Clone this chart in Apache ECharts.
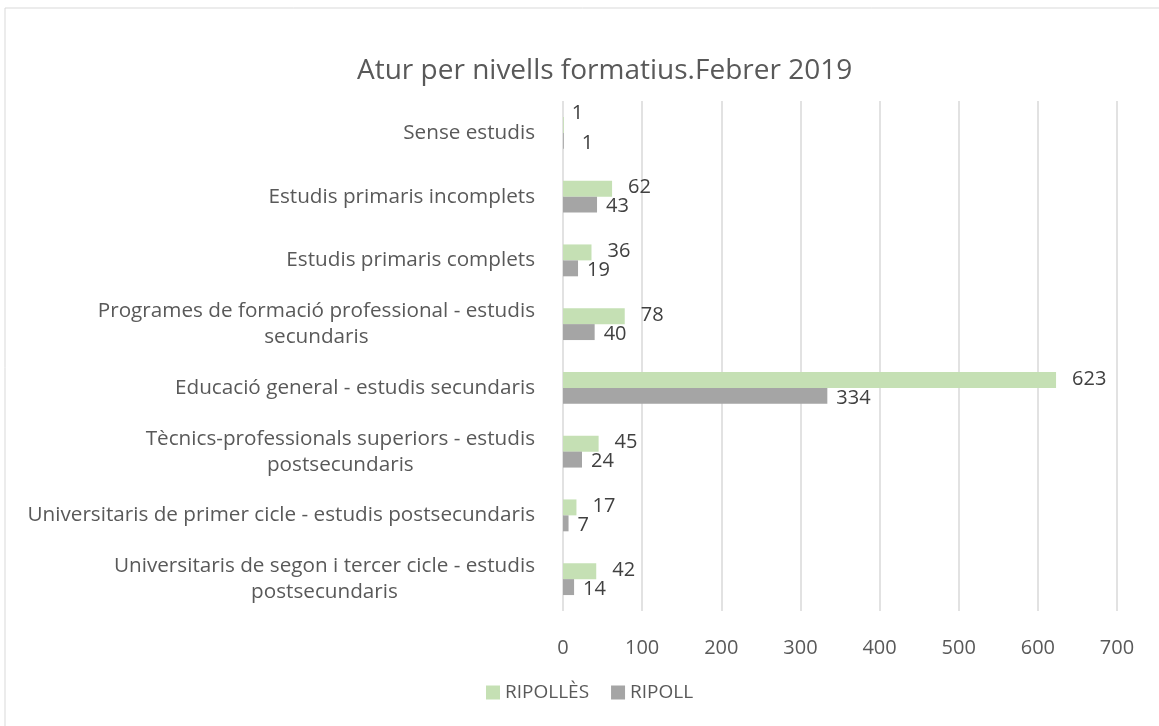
<!DOCTYPE html>
<html lang="ca">
<head>
    <meta charset="UTF-8">
    <title>Atur per nivells formatius</title>
    <script src="https://cdn.jsdelivr.net/npm/echarts@6/dist/echarts.min.js"></script>
    <style>
        html, body { margin: 0; padding: 0; background: #fff; }
        #main { width: 1159px; height: 726px; }
    </style>
</head>
<body>
    <div id="main"></div>
    <script>
    // dades
    var categories = [
        'Sense estudis',
        'Estudis primaris incomplets',
        'Estudis primaris complets',
        'Programes de formació professional - estudis\nsecundaris',
        'Educació general - estudis secundaris',
        'Tècnics-professionals superiors - estudis\npostsecundaris',
        'Universitaris de primer cicle - estudis postsecundaris',
        'Universitaris de segon i tercer cicle - estudis\npostsecundaris'
    ];
    var ripolles = [1, 62, 36, 78, 623, 45, 17, 42];
    var ripoll = [1, 43, 19, 40, 334, 24, 7, 14];
    var xTicks = [0, 100, 200, 300, 400, 500, 600, 700];

    var font = '"Open Sans", sans-serif';
    var myChart = echarts.init(document.getElementById('main'));

    // etiquetes de valors molt petits: Excel les separa una mica
    function withLabels(values, smallOffset) {
        return values.map(function (v) {
            if (v < 3) return { value: v, label: { offset: smallOffset } };
            return v;
        });
    }

    myChart.setOption({
        animation: false,
        textStyle: { fontFamily: font },
        graphic: [{
            type: 'rect',
            shape: { x: 5, y: 8, width: 1170, height: 740 },
            style: { fill: 'none', stroke: '#d9d9d9', lineWidth: 1 }
        }],
        title: {
            text: 'Atur per nivells formatius.Febrer 2019',
            left: 352,
            top: 52,
            textStyle: { fontFamily: font, fontSize: 28, fontWeight: 'normal', color: '#595959' }
        },
        legend: {
            bottom: 19,
            left: 481,
            itemWidth: 14,
            itemHeight: 14,
            itemGap: 22,
            icon: 'rect',
            textStyle: { fontFamily: font, fontSize: 19, color: '#595959' }
        },
        grid: { left: 563, right: 42, top: 101, bottom: 115, containLabel: false },
        xAxis: {
            type: 'value',
            min: xTicks[0],
            max: xTicks[xTicks.length - 1],
            interval: 100,
            axisLine: { show: false },
            axisTick: { show: false },
            axisLabel: { fontSize: 20, color: '#595959', margin: 27 },
            splitLine: { lineStyle: { color: '#d9d9d9', width: 1.5 } }
        },
        yAxis: {
            type: 'category',
            data: categories,
            inverse: true,
            axisLine: { show: false },
            axisTick: { show: false },
            axisLabel: {
                margin: 28,
                color: '#595959',
                fontSize: 20.7,
                lineHeight: 26,
                formatter: function (v) {
                    return v.split('\n').map(function (s) { return '{c|' + s + '}'; }).join('\n');
                },
                rich: { c: { align: 'center', fontSize: 20.7, color: '#595959', lineHeight: 26 } }
            }
        },
        series: [{
            name: 'RIPOLLÈS',
            type: 'bar',
            data: withLabels(ripolles, [-8, -12]),
            barGap: '0%',
            barCategoryGap: '50%',
            itemStyle: { color: '#c5e0b4' },
            label: {
                show: true,
                position: 'right',
                distance: 16,
                offset: [0, -1],
                fontSize: 20,
                color: '#404040'
            }
        }, {
            name: 'RIPOLL',
            type: 'bar',
            data: withLabels(ripoll, [9, 2]),
            itemStyle: { color: '#a5a5a5' },
            label: {
                show: true,
                position: 'right',
                distance: 9,
                offset: [0, 2],
                fontSize: 20,
                color: '#404040'
            }
        }]
    });
    </script>
</body>
</html>
